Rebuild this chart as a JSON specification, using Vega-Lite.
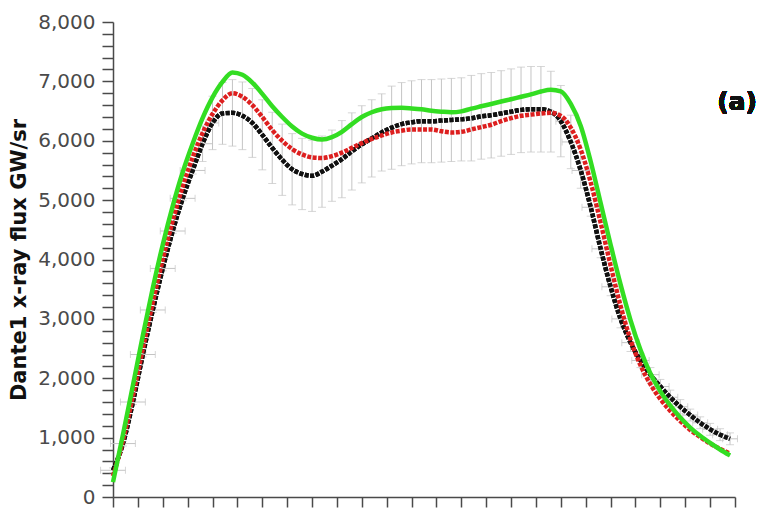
{
  "$schema": "https://vega.github.io/schema/vega-lite/v6.json",
  "width": 622,
  "height": 475,
  "autosize": {"type": "none"},
  "padding": {"left": 113, "top": 22, "right": 28, "bottom": 11},
  "background": "white",
  "config": {"view": {"stroke": null}},
  "data": {"values": [
    {"x": 0, "b": 450, "e": 40, "xe": 0.1, "r": 350, "g": 250},
    {"x": 0.08, "b": 900, "e": 40, "xe": 0.1, "r": 950, "g": 1050},
    {"x": 0.16, "b": 1600, "e": 40, "xe": 0.1, "r": 1700, "g": 1880},
    {"x": 0.24, "b": 2400, "e": 40, "xe": 0.1, "r": 2500, "g": 2720},
    {"x": 0.32, "b": 3150, "e": 40, "xe": 0.1, "r": 3280, "g": 3520},
    {"x": 0.4, "b": 3850, "e": 40, "xe": 0.1, "r": 4000, "g": 4250},
    {"x": 0.48, "b": 4480, "e": 40, "xe": 0.1, "r": 4650, "g": 4900},
    {"x": 0.56, "b": 5030, "e": 40, "xe": 0.1, "r": 5230, "g": 5470},
    {"x": 0.64, "b": 5500, "e": 60, "xe": 0.1, "r": 5720, "g": 5950},
    {"x": 0.72, "b": 5950, "e": 300, "xe": 0.08, "r": 6130, "g": 6380},
    {"x": 0.8, "b": 6300, "e": 450, "xe": 0.05, "r": 6450, "g": 6730},
    {"x": 0.88, "b": 6460, "e": 520, "xe": 0, "r": 6680, "g": 6990},
    {"x": 0.96, "b": 6470, "e": 560, "xe": 0, "r": 6800, "g": 7150},
    {"x": 1.04, "b": 6420, "e": 570, "xe": 0, "r": 6740, "g": 7110},
    {"x": 1.12, "b": 6300, "e": 580, "xe": 0, "r": 6600, "g": 6980},
    {"x": 1.2, "b": 6100, "e": 590, "xe": 0, "r": 6400, "g": 6790},
    {"x": 1.28, "b": 5880, "e": 600, "xe": 0, "r": 6180, "g": 6580},
    {"x": 1.36, "b": 5680, "e": 600, "xe": 0, "r": 6000, "g": 6400},
    {"x": 1.44, "b": 5520, "e": 600, "xe": 0, "r": 5860, "g": 6240},
    {"x": 1.52, "b": 5440, "e": 600, "xe": 0, "r": 5770, "g": 6120},
    {"x": 1.6, "b": 5410, "e": 600, "xe": 0, "r": 5720, "g": 6050},
    {"x": 1.68, "b": 5480, "e": 600, "xe": 0, "r": 5710, "g": 6020},
    {"x": 1.76, "b": 5580, "e": 600, "xe": 0, "r": 5740, "g": 6060},
    {"x": 1.84, "b": 5690, "e": 650, "xe": 0, "r": 5800, "g": 6150},
    {"x": 1.92, "b": 5820, "e": 650, "xe": 0, "r": 5880, "g": 6280},
    {"x": 2.0, "b": 5940, "e": 650, "xe": 0, "r": 5960, "g": 6400},
    {"x": 2.08, "b": 6040, "e": 650, "xe": 0, "r": 6030, "g": 6480},
    {"x": 2.16, "b": 6140, "e": 650, "xe": 0, "r": 6090, "g": 6530},
    {"x": 2.24, "b": 6220, "e": 700, "xe": 0, "r": 6140, "g": 6550},
    {"x": 2.32, "b": 6280, "e": 700, "xe": 0, "r": 6170, "g": 6555},
    {"x": 2.4, "b": 6310, "e": 700, "xe": 0, "r": 6190, "g": 6545},
    {"x": 2.48, "b": 6330, "e": 700, "xe": 0, "r": 6190, "g": 6530},
    {"x": 2.56, "b": 6330, "e": 700, "xe": 0, "r": 6190, "g": 6505},
    {"x": 2.64, "b": 6340, "e": 700, "xe": 0, "r": 6160, "g": 6490},
    {"x": 2.72, "b": 6350, "e": 700, "xe": 0, "r": 6140, "g": 6480},
    {"x": 2.8, "b": 6360, "e": 700, "xe": 0, "r": 6150, "g": 6495},
    {"x": 2.88, "b": 6380, "e": 720, "xe": 0, "r": 6190, "g": 6540},
    {"x": 2.96, "b": 6410, "e": 720, "xe": 0, "r": 6230, "g": 6580},
    {"x": 3.04, "b": 6430, "e": 720, "xe": 0, "r": 6270, "g": 6620},
    {"x": 3.12, "b": 6460, "e": 720, "xe": 0, "r": 6330, "g": 6660},
    {"x": 3.2, "b": 6490, "e": 720, "xe": 0, "r": 6380, "g": 6700},
    {"x": 3.28, "b": 6520, "e": 720, "xe": 0, "r": 6420, "g": 6740},
    {"x": 3.36, "b": 6530, "e": 720, "xe": 0, "r": 6440, "g": 6780},
    {"x": 3.44, "b": 6530, "e": 720, "xe": 0, "r": 6460, "g": 6830},
    {"x": 3.52, "b": 6490, "e": 680, "xe": 0, "r": 6470, "g": 6860},
    {"x": 3.6, "b": 6330, "e": 600, "xe": 0.04, "r": 6420, "g": 6830},
    {"x": 3.68, "b": 5980, "e": 450, "xe": 0.07, "r": 6220, "g": 6620},
    {"x": 3.76, "b": 5500, "e": 300, "xe": 0.07, "r": 5850, "g": 6250},
    {"x": 3.84, "b": 4880, "e": 150, "xe": 0.07, "r": 5300, "g": 5650},
    {"x": 3.92, "b": 4180, "e": 150, "xe": 0.07, "r": 4620, "g": 4950},
    {"x": 4.0, "b": 3540, "e": 150, "xe": 0.07, "r": 3900, "g": 4250},
    {"x": 4.08, "b": 3000, "e": 150, "xe": 0.07, "r": 3220, "g": 3580},
    {"x": 4.16, "b": 2600, "e": 150, "xe": 0.07, "r": 2650, "g": 2980},
    {"x": 4.24, "b": 2300, "e": 120, "xe": 0.07, "r": 2220, "g": 2480},
    {"x": 4.32, "b": 2060, "e": 120, "xe": 0.07, "r": 1900, "g": 2080},
    {"x": 4.4, "b": 1860, "e": 120, "xe": 0.07, "r": 1650, "g": 1780},
    {"x": 4.48, "b": 1680, "e": 120, "xe": 0.06, "r": 1450, "g": 1540},
    {"x": 4.56, "b": 1520, "e": 120, "xe": 0.06, "r": 1280, "g": 1340},
    {"x": 4.64, "b": 1380, "e": 100, "xe": 0.06, "r": 1130, "g": 1170},
    {"x": 4.72, "b": 1250, "e": 100, "xe": 0.06, "r": 1010, "g": 1030},
    {"x": 4.8, "b": 1140, "e": 100, "xe": 0.06, "r": 900, "g": 910},
    {"x": 4.88, "b": 1050, "e": 100, "xe": 0.06, "r": 810, "g": 800},
    {"x": 4.96, "b": 980, "e": 100, "xe": 0.06, "r": 730, "g": 700}
  ]},
  "layer": [
    {
      "mark": {"type": "line", "color": "#111111", "strokeWidth": 4.5, "strokeDash": [4, 1.5], "interpolate": "monotone"},
      "encoding": {
        "x": {"field": "x", "type": "quantitative", "title": null, "scale": {"domain": [0, 5], "nice": false},
          "axis": {"values": [0,0.2,0.4,0.6,0.8,1,1.2,1.4,1.6,1.8,2,2.2,2.4,2.6,2.8,3,3.2,3.4,3.6,3.8,4,4.2,4.4,4.6,4.8,5],
            "tickCount": 100, "labels": false, "labelOverlap": false, "grid": false, "domainColor": "#4a4a4a", "domainWidth": 1.5, "tickColor": "#4a4a4a", "tickWidth": 1.5, "tickSize": 10,
            "encode": {"ticks": {"update": {"y2": {"signal": "abs(datum.value - round(datum.value)) < 0.01 ? 10 : 6"}}}}}},
        "y": {"field": "b", "type": "quantitative", "title": "Dante1 x-ray flux GW/sr", "scale": {"domain": [0, 8000], "nice": false},
          "axis": {"titleFont": "DejaVu Sans", "titleFontSize": 21, "titleFontWeight": "bold", "titleColor": "#111111", "titlePadding": 8,
            "values": [0,200,400,600,800,1000,1200,1400,1600,1800,2000,2200,2400,2600,2800,3000,3200,3400,3600,3800,4000,4200,4400,4600,4800,5000,5200,5400,5600,5800,6000,6200,6400,6600,6800,7000,7200,7400,7600,7800,8000],
            "tickCount": 100,
            "labelExpr": "datum.value % 1000 === 0 ? format(datum.value, ',') : ''",
            "labelOverlap": false,
            "labelFont": "DejaVu Sans", "labelFontSize": 20, "labelColor": "#4a4a4a", "labelPadding": 7,
            "grid": false, "domainColor": "#4a4a4a", "domainWidth": 1.5, "tickColor": "#4a4a4a", "tickWidth": 1.5, "tickSize": 11,
            "encode": {"ticks": {"update": {"x2": {"signal": "datum.value % 1000 === 0 ? -11 : -6"}}}}}}
      }
    },
    {
      "mark": {"type": "errorbar", "ticks": {"size": 8, "color": "#c4c4c4"}, "rule": {"color": "#c4c4c4", "strokeWidth": 1}},
      "encoding": {
        "x": {"field": "x", "type": "quantitative", "title": null},
        "y": {"field": "b", "type": "quantitative", "title": "Dante1 x-ray flux GW/sr"},
        "yError": {"field": "e"}
      }
    },
    {
      "transform": [{"filter": "datum.xe > 0"}],
      "mark": {"type": "errorbar", "ticks": {"size": 7, "color": "#c4c4c4"}, "rule": {"color": "#c4c4c4", "strokeWidth": 1}},
      "encoding": {
        "x": {"field": "x", "type": "quantitative", "title": null},
        "xError": {"field": "xe"},
        "y": {"field": "b", "type": "quantitative", "title": "Dante1 x-ray flux GW/sr"}
      }
    },
    {
      "mark": {"type": "line", "color": "#111111", "strokeWidth": 4.5, "strokeDash": [4, 1.5], "interpolate": "monotone"},
      "encoding": {
        "x": {"field": "x", "type": "quantitative", "title": null},
        "y": {"field": "b", "type": "quantitative", "title": "Dante1 x-ray flux GW/sr"}
      }
    },
    {
      "mark": {"type": "line", "color": "#dd1f1f", "strokeWidth": 4.5, "strokeDash": [4, 1.5], "interpolate": "monotone"},
      "encoding": {
        "x": {"field": "x", "type": "quantitative", "title": null},
        "y": {"field": "r", "type": "quantitative", "title": "Dante1 x-ray flux GW/sr"}
      }
    },
    {
      "mark": {"type": "line", "color": "#33dd22", "strokeWidth": 4.5, "interpolate": "monotone"},
      "encoding": {
        "x": {"field": "x", "type": "quantitative", "title": null},
        "y": {"field": "g", "type": "quantitative", "title": "Dante1 x-ray flux GW/sr"}
      }
    },
    {
      "mark": {"type": "text", "text": "(a)", "font": "DejaVu Sans", "fontSize": 25, "fontWeight": "bold", "color": "#111111", "align": "center", "baseline": "middle"},
      "encoding": {
        "x": {"datum": 5.016, "type": "quantitative", "title": null},
        "y": {"datum": 6650, "type": "quantitative", "title": "Dante1 x-ray flux GW/sr"}
      }
    }
  ]
}
